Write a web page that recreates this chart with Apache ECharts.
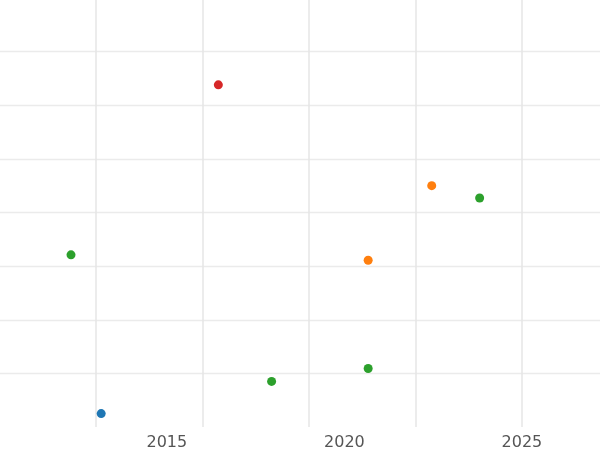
<!DOCTYPE html>
<html>
<head>
<meta charset="utf-8">
<script src="https://cdn.jsdelivr.net/npm/echarts@6/dist/echarts.min.js"></script>
<style>html,body{margin:0;padding:0;background:#fff}</style>
</head>
<body>
<div id="chart" style="width:600px;height:450px;"></div>
<script>
// year, value per group
var blueYears = [2013.15];
var blueVals = [0.25];
var orangeYears = [2022.46, 2020.67];
var orangeVals = [4.50, 3.11];
var greenYears = [2023.81, 2012.30, 2020.67, 2017.95];
var greenVals = [4.27, 3.21, 1.09, 0.85];
var redYears = [2016.45];
var redVals = [6.38];
var xTicks = [2015, 2020, 2025];

function pts(xs, ys) { return xs.map(function (x, i) { return [x, ys[i]]; }); }
function ser(xs, ys, c) {
    return { type: 'scatter', symbolSize: 9, itemStyle: { color: c, opacity: 1 }, data: pts(xs, ys) };
}

var chart = echarts.init(document.getElementById('chart'));
chart.setOption({
    animation: false,
    grid: { left: 0, right: 0, top: -2, bottom: 23, containLabel: false, outerBoundsMode: 'none' },
    xAxis: {
        type: 'value', min: 2010.3, max: 2027.2,
        axisLine: { show: false }, axisTick: { show: false },
        splitLine: { show: true, showMinLine: false, showMaxLine: false, lineStyle: { color: '#e6e6e6', width: 1.5 } },
        axisLabel: { color: '#555', fontSize: 16, fontFamily: 'DejaVu Sans', customValues: xTicks,
            formatter: function (v) { return String(v); } }
    },
    yAxis: {
        type: 'value', min: 0, max: 8, interval: 1,
        axisLine: { show: false }, axisTick: { show: false }, axisLabel: { show: false },
        splitLine: { showMinLine: false, showMaxLine: false, lineStyle: { color: '#ebebeb', width: 1.3 } }
    },
    series: [
        ser(blueYears, blueVals, '#1f77b4'),
        ser(orangeYears, orangeVals, '#ff7f0e'),
        ser(greenYears, greenVals, '#2ca02c'),
        ser(redYears, redVals, '#d62728')
    ]
});
</script>
</body>
</html>
